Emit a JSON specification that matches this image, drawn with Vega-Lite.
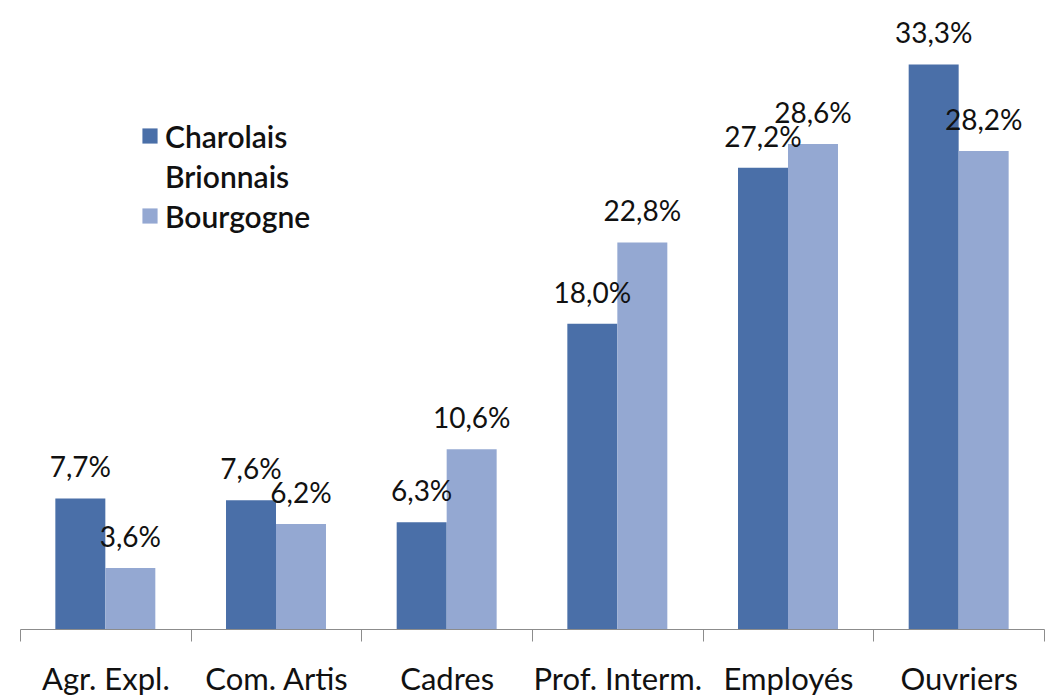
{
  "$schema": "https://vega.github.io/schema/vega-lite/v6.json",
  "width": 1024,
  "height": 629,
  "autosize": {"type": "none"},
  "padding": {"left": 20, "top": 0, "right": 4, "bottom": 68},
  "background": "white",
  "data": {
    "values": [
      {"cat": "Agr. Expl.", "zone": "Charolais Brionnais", "value": 7.7, "label": "7,7%"},
      {"cat": "Agr. Expl.", "zone": "Bourgogne", "value": 3.6, "label": "3,6%"},
      {"cat": "Com. Artis", "zone": "Charolais Brionnais", "value": 7.6, "label": "7,6%"},
      {"cat": "Com. Artis", "zone": "Bourgogne", "value": 6.2, "label": "6,2%"},
      {"cat": "Cadres", "zone": "Charolais Brionnais", "value": 6.3, "label": "6,3%"},
      {"cat": "Cadres", "zone": "Bourgogne", "value": 10.6, "label": "10,6%"},
      {"cat": "Prof. Interm.", "zone": "Charolais Brionnais", "value": 18.0, "label": "18,0%"},
      {"cat": "Prof. Interm.", "zone": "Bourgogne", "value": 22.8, "label": "22,8%"},
      {"cat": "Employés", "zone": "Charolais Brionnais", "value": 27.2, "label": "27,2%"},
      {"cat": "Employés", "zone": "Bourgogne", "value": 28.6, "label": "28,6%"},
      {"cat": "Ouvriers", "zone": "Charolais Brionnais", "value": 33.3, "label": "33,3%"},
      {"cat": "Ouvriers", "zone": "Bourgogne", "value": 28.2, "label": "28,2%"}
    ]
  },
  "encoding": {
    "x": {
      "field": "cat", "type": "nominal", "sort": null,
      "scale": {"paddingInner": 0, "paddingOuter": 0},
      "axis": {
        "title": null, "labelAngle": 0, "tickBand": "extent",
        "domainColor": "#8c8c8c", "tickColor": "#8c8c8c", "tickSize": 12,
        "labelFont": "Lato", "labelFontSize": 31, "labelColor": "#111",
        "labelPadding": 36, "labelBaseline": "top"
      }
    },
    "xOffset": {
      "field": "zone", "type": "nominal",
      "sort": ["Charolais Brionnais", "Bourgogne"],
      "scale": {"paddingInner": 0, "paddingOuter": 0.707}
    },
    "y": {
      "field": "value", "type": "quantitative",
      "scale": {"domain": [0, 37.1], "nice": false},
      "axis": null
    }
  },
  "layer": [
    {
      "mark": {"type": "bar"},
      "encoding": {
        "color": {
          "field": "zone", "type": "nominal",
          "sort": ["Charolais Brionnais", "Bourgogne"],
          "scale": {"domain": ["Charolais Brionnais", "Bourgogne"], "range": ["#4A6FA8", "#94A8D2"]},
          "legend": {
            "title": null, "orient": "none", "legendX": 115, "legendY": 121,
            "padding": 0,
            "symbolType": "square", "symbolSize": 230, "symbolStrokeWidth": 0,
            "labelFont": "Lato", "labelFontSize": 30, "labelFontWeight": 600, "labelColor": "#111",
            "labelBaseline": "top", "labelOffset": 0,
            "labelExpr": "datum.label == 'Charolais Brionnais' ? ['Charolais', 'Brionnais'] : datum.label",
            "labelLimit": 300, "rowPadding": 7
          }
        }
      }
    },
    {
      "mark": {"type": "text", "baseline": "alphabetic", "dy": -21, "font": "Lato", "fontSize": 28, "color": "#111"},
      "encoding": {
        "text": {"field": "label"}
      }
    }
  ],
  "config": {
    "view": {"stroke": null},
    "style": {"guide-label": {"lineHeight": 40, "dy": -12}}
  }
}
